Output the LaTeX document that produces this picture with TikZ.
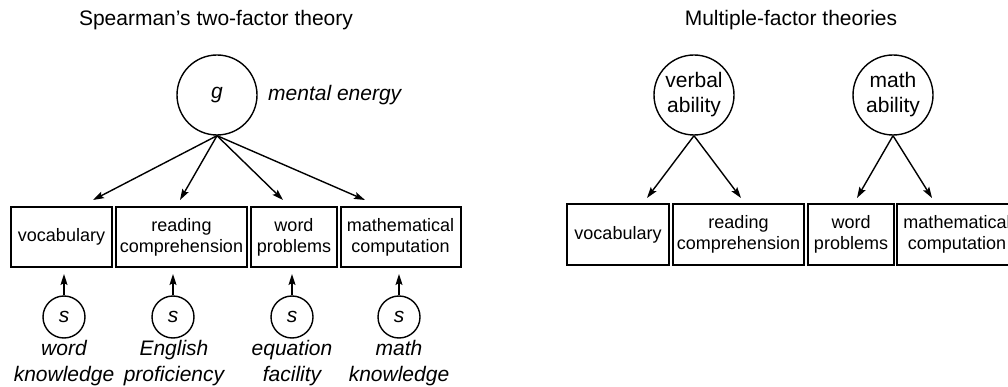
\documentclass[tikz,border=0pt]{standalone}
\usepackage{fontspec}
\setmainfont{Liberation Sans}
\usetikzlibrary{arrows.meta}

\begin{document}
\begin{tikzpicture}[x=1pt,y=-1pt,
  factor/.style={draw,circle,line width=1.4pt,minimum size=80pt,inner sep=0pt,font=\fontsize{21}{25}\selectfont,align=center},
  spec/.style={draw,circle,line width=1.4pt,minimum size=42pt,inner sep=0pt,font=\fontsize{21}{25}\selectfont\itshape},
  test/.style={draw,line width=2pt,minimum height=60pt,inner sep=0pt,font=\fontsize{18}{21}\selectfont,align=center},
  load/.style={line width=1.4pt,-{Stealth[length=11pt,width=7pt,inset=2pt]}},
  heading/.style={font=\fontsize{21}{25}\selectfont},
  skill/.style={font=\fontsize{21}{26}\selectfont\itshape,align=center,anchor=north,inner sep=1pt}]
\useasboundingbox (0,0) rectangle (1008,387);
\clip (0,0) rectangle (1008,387);

\node[heading] (t1) at (216,20) {Spearman’s two-factor theory};
\node[factor] (g) at (217,95) {\textit{g}};
\node[heading,anchor=west,inner sep=0pt] (ge) at (268,95) {\itshape mental energy};

\node[test,minimum width=101pt] (voc) at (61.5,237) {vocabulary};
\node[test,minimum width=131pt] (rc) at (181.5,237) {reading\\comprehension};
\node[test,minimum width=86pt] (wp) at (294,237) {word\\problems};
\node[test,minimum width=120pt] (mc) at (400.5,237) {mathematical\\computation};

\coordinate (a1) at (93,200);
\coordinate (a2) at (180,200);
\coordinate (a3) at (283,200);
\coordinate (a4) at (365,200);
\draw[load] (g.south) -- (a1);
\draw[load] (g.south) -- (a2);
\draw[load] (g.south) -- (a3);
\draw[load] (g.south) -- (a4);

\node[spec] (s1) at (64,317) {s};
\node[spec] (s2) at (173,317) {s};
\node[spec] (s3) at (292,317) {s};
\node[spec] (s4) at (399,317) {s};
\draw[load,shorten >=6pt] (s1.north) -- (s1.north |- voc.south);
\draw[load,shorten >=6pt] (s2.north) -- (s2.north |- rc.south);
\draw[load,shorten >=6pt] (s3.north) -- (s3.north |- wp.south);
\draw[load,shorten >=6pt] (s4.north) -- (s4.north |- mc.south);

\node[skill] (k1) at (64,339) {word\\knowledge};
\node[skill] (k2) at (174,339) {English\\proficiency};
\node[skill] (k3) at (292,339) {equation\\facility};
\node[skill] (k4) at (399,339) {math\\knowledge};

\node[heading] (t2) at (791,20) {Multiple-factor theories};
\node[factor] (va) at (694,95) {verbal\\ability};
\node[factor] (ma) at (893,95) {math\\ability};

\node[test,minimum width=102pt] (voc2) at (618,234.5) {vocabulary};
\node[test,minimum width=131pt] (rc2) at (738.5,234.5) {reading\\comprehension};
\node[test,minimum width=86pt] (wp2) at (851,234.5) {word\\problems};
\node[test,minimum width=120pt] (mc2) at (957,234.5) {mathematical\\computation};

\coordinate (b1) at (647,198);
\coordinate (b2) at (741,198);
\coordinate (b3) at (857,198);
\coordinate (b4) at (932,198);
\draw[load] (va.south) -- (b1);
\draw[load] (va.south) -- (b2);
\draw[load] (ma.south) -- (b3);
\draw[load] (ma.south) -- (b4);
\end{tikzpicture}
\end{document}
